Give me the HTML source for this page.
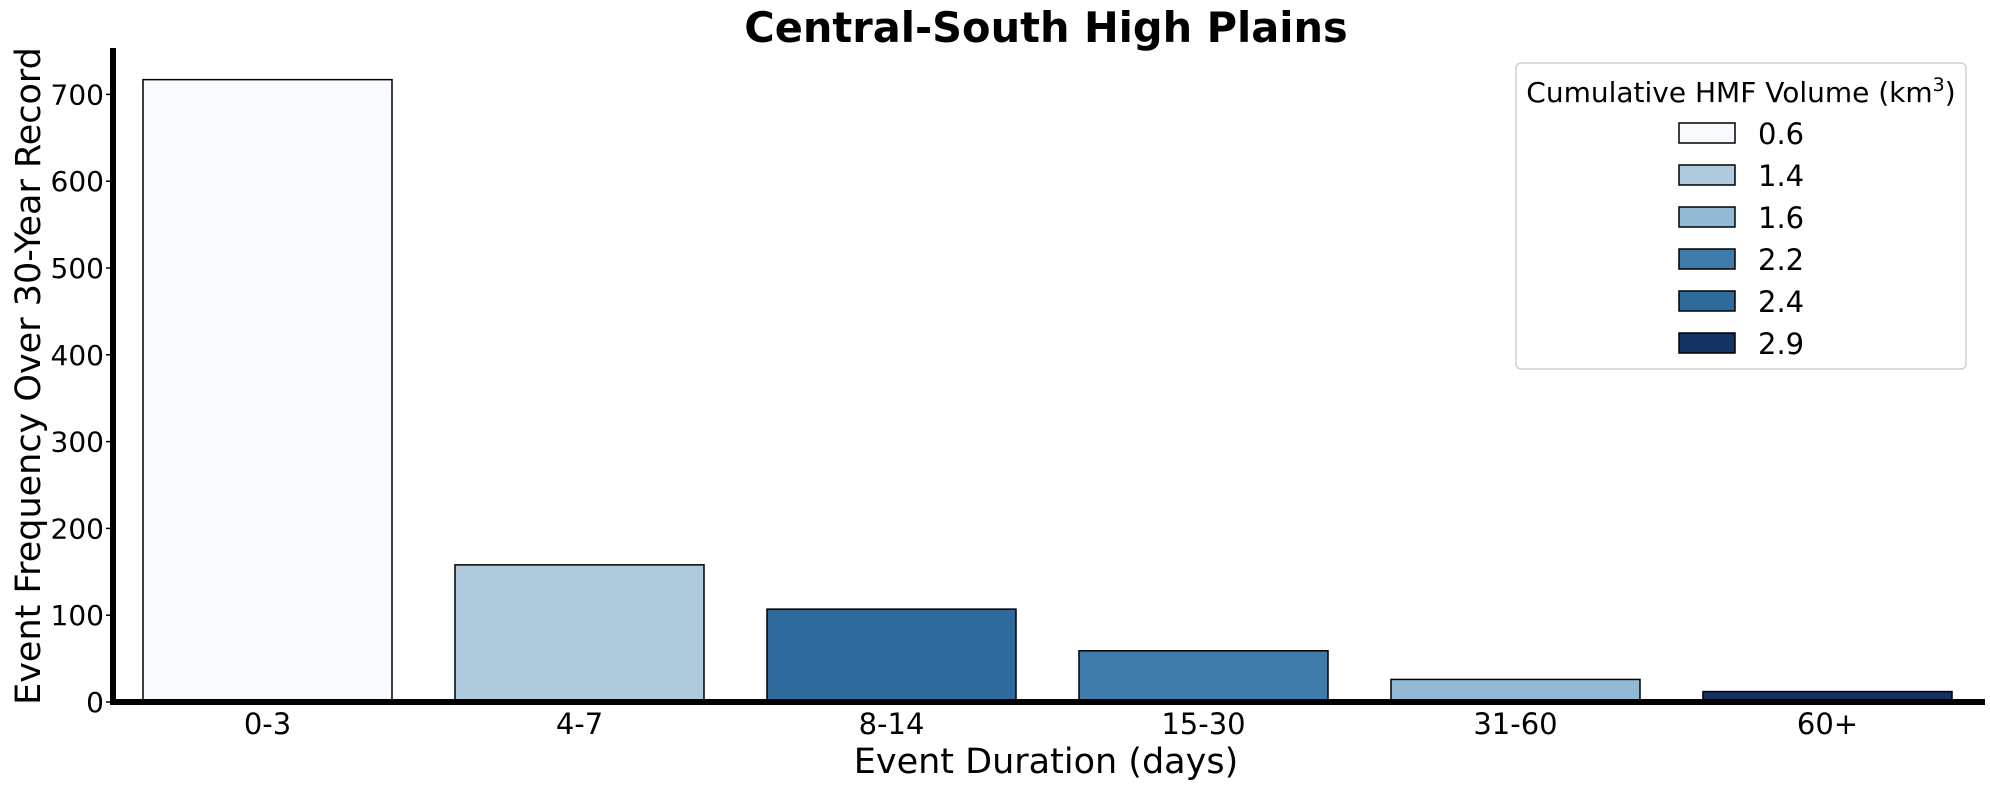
<!DOCTYPE html>
<html><head><meta charset="utf-8"><style>
body{margin:0;background:#fff;}
svg text{font-family:"DejaVu Sans","Liberation Sans",sans-serif;}
</style></head><body>
<svg id="chart" width="1990" height="789" viewBox="0 0 1990 789">
<text x="1046" y="42" text-anchor="middle" font-size="41.5" font-weight="bold">Central-South High Plains</text>
<g id="bars"></g>
<g id="yticks"></g>
<g id="xticks"></g>
<line x1="113" y1="48" x2="113" y2="705" stroke="#000" stroke-width="6"/>
<line x1="110" y1="702" x2="1985" y2="702" stroke="#000" stroke-width="6"/>
<text x="1046" y="773" text-anchor="middle" font-size="35">Event Duration (days)</text>
<text transform="translate(40,376) rotate(-90)" text-anchor="middle" font-size="35">Event Frequency Over 30-Year Record</text>
<g>
<rect x="1516" y="63" width="450" height="306" rx="5" fill="#fff" stroke="#d0d0d0" stroke-width="1.5"/>
<text x="1741" y="102" text-anchor="middle" font-size="28">Cumulative HMF Volume (km<tspan dy="-11" font-size="19">3</tspan><tspan dy="11">)</tspan></text>
<g id="legend-items"></g>
</g>
</svg>
<script>
const categories = ["0-3","4-7","8-14","15-30","31-60","60+"];
const values = [717,158,107,59,26,12];
const barColors = ["#f7fbff","#aecadc","#2e6a9c","#3f7cab","#92bad4","#143363"];
const legendLabels = ["0.6","1.4","1.6","2.2","2.4","2.9"];
const legendColors = ["#f7fbff","#aecadc","#92bad4","#3f7cab","#2e6a9c","#143363"];
const yTicks = [0,100,200,300,400,500,600,700];

const NS="http://www.w3.org/2000/svg";
const y0=702, pxPer=0.868;
function yScale(v){return y0 - v*pxPer;}
const x0=267.5, step=312, bw=249;
function xScale(i){return x0 + i*step;}
function mk(tag,attrs,parent){const e=document.createElementNS(NS,tag);for(const k in attrs)e.setAttribute(k,attrs[k]);parent.appendChild(e);return e;}

const bars=document.getElementById('bars');
values.forEach((v,i)=>{
  const r=mk('rect',{x:xScale(i)-bw/2,y:yScale(v),width:bw,height:y0-yScale(v),fill:barColors[i],stroke:'#000','stroke-width':1.5},bars);
  
  
});
const yt=document.getElementById('yticks');
yTicks.forEach(t=>{
  const l=mk('line',{x1:106,x2:110,y1:yScale(t),y2:yScale(t),stroke:'#000','stroke-width':1.5},yt);
  
  
  const tx=mk('text',{x:104,y:yScale(t)+10,'text-anchor':'end','font-size':28},yt);
  tx.textContent=t;
  
  
});
const xt=document.getElementById('xticks');
categories.forEach((c,i)=>{
  const tx=mk('text',{x:xScale(i),y:734,'text-anchor':'middle','font-size':29},xt);
  tx.textContent=c;
  
  
});
const li=document.getElementById('legend-items');
legendLabels.forEach((lab,i)=>{
  const cy=133+i*42;
  const r=mk('rect',{x:1679,y:cy-10,width:56,height:20,fill:legendColors[i],stroke:'#000','stroke-width':1.5},li);
  
  
  const tx=mk('text',{x:1758,y:cy+11,'font-size':29},li);
  tx.textContent=lab;
  
  
});
</script>
</body></html>
